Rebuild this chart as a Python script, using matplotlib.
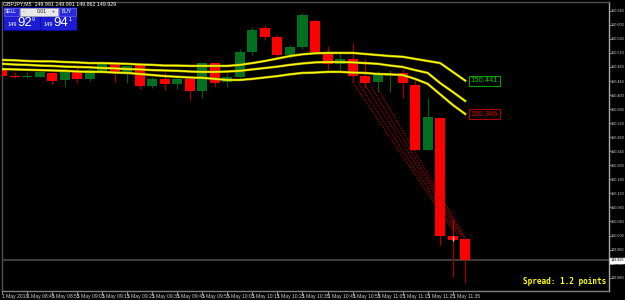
import matplotlib
matplotlib.use("Agg")
import matplotlib.pyplot as plt
from matplotlib.patches import Rectangle
import matplotlib.transforms as mtransforms

# ---- data (GBPJPY M5) ----
opens = [150.477, 150.455, 150.450, 150.452, 150.464, 150.443, 150.467, 150.446,
         150.469, 150.488, 150.465, 150.486, 150.427, 150.446, 150.431, 150.445,
         150.412, 150.490, 150.436, 150.450, 150.523, 150.591, 150.566, 150.514,
         150.537, 150.611, 150.523, 150.489, 150.503, 150.454, 150.437, 150.454,
         150.463, 150.429, 150.244, 150.335, 149.998, 149.990]
highs = [150.483, 150.466, 150.466, 150.469, 150.466, 150.470, 150.481, 150.476,
         150.495, 150.493, 150.484, 150.487, 150.451, 150.465, 150.454, 150.447,
         150.492, 150.492, 150.462, 150.531, 150.594, 150.600, 150.571, 150.543,
         150.634, 150.614, 150.540, 150.523, 150.548, 150.503, 150.469, 150.471,
         150.474, 150.443, 150.392, 150.335, 150.044, 149.990]
lows = [150.443, 150.449, 150.449, 150.450, 150.431, 150.424, 150.434, 150.441,
        150.462, 150.436, 150.434, 150.417, 150.419, 150.415, 150.417, 150.386,
        150.391, 150.424, 150.424, 150.449, 150.514, 150.557, 150.508, 150.506,
        150.531, 150.520, 150.471, 150.471, 150.437, 150.420, 150.409, 150.409,
        150.392, 150.244, 150.244, 149.973, 149.882, 149.864]
closes = [150.454, 150.450, 150.454, 150.465, 150.441, 150.469, 150.445, 150.471,
          150.488, 150.465, 150.483, 150.427, 150.446, 150.432, 150.446, 150.412,
          150.491, 150.435, 150.451, 150.523, 150.586, 150.566, 150.514, 150.537,
          150.628, 150.523, 150.489, 150.503, 150.454, 150.434, 150.463, 150.457,
          150.434, 150.244, 150.338, 149.998, 149.987, 149.929]

band_upper = [150.500, 150.499, 150.497, 150.496, 150.496, 150.494, 150.493, 150.491,
              150.491, 150.490, 150.489, 150.487, 150.486, 150.484, 150.484, 150.483,
              150.483, 150.483, 150.483, 150.486, 150.491, 150.497, 150.504, 150.511,
              150.516, 150.519, 150.520, 150.520, 150.520, 150.517, 150.514, 150.511,
              150.509, 150.503, 150.497, 150.491, 150.466, 150.441]
band_middle = [150.489, 150.487, 150.486, 150.484, 150.483, 150.481, 150.480, 150.479,
               150.477, 150.476, 150.474, 150.473, 150.471, 150.470, 150.469, 150.467,
               150.466, 150.466, 150.467, 150.469, 150.473, 150.477, 150.481, 150.486,
               150.490, 150.493, 150.494, 150.494, 150.493, 150.491, 150.489, 150.484,
               150.480, 150.471, 150.463, 150.434, 150.409, 150.383]
band_lower = [150.474, 150.473, 150.472, 150.471, 150.470, 150.469, 150.467, 150.466,
              150.466, 150.464, 150.463, 150.460, 150.457, 150.454, 150.452, 150.450,
              150.449, 150.446, 150.443, 150.443, 150.446, 150.450, 150.454, 150.459,
              150.463, 150.464, 150.466, 150.466, 150.464, 150.463, 150.460, 150.459,
              150.457, 150.446, 150.432, 150.402, 150.372, 150.346]

# dotted red fan lines: (bar start, price start, bar end, price end)
fan_lines = [(28.0, 150.437, 36.1, 150.010),
             (28.5, 150.432, 36.4, 150.004),
             (29.0, 150.429, 36.7, 149.998),
             (29.5, 150.423, 36.9, 149.993),
             (30.0, 150.420, 37.1, 149.987)]

bid = 149.929
price_ticks = [150.640, 150.600, 150.560, 150.520, 150.480, 150.440, 150.400, 150.360,
               150.320, 150.280, 150.240, 150.200, 150.160, 150.120, 150.080, 150.040,
               150.000, 149.960, 149.920, 149.880]
time_labels = ["1 May 2018", "1 May 08:45", "1 May 08:55", "1 May 09:05", "1 May 09:15",
               "1 May 09:25", "1 May 09:35", "1 May 09:45", "1 May 09:55", "1 May 10:05",
               "1 May 10:15", "1 May 10:25", "1 May 10:35", "1 May 10:45", "1 May 10:55",
               "1 May 11:05", "1 May 11:15", "1 May 11:25", "1 May 11:35"]

W, H = 625, 300
fig = plt.figure(figsize=(W / 100, H / 100), dpi=100, facecolor="black")
ax = fig.add_axes([2 / W, 9 / H, 607 / W, 289 / H], facecolor="black")


def px(x, y):
    """figure pixel (from top-left) -> figure fraction"""
    return x / W, 1 - y / H


# candles
for i in range(len(opens)):
    o, h, l, c = opens[i], highs[i], lows[i], closes[i]
    up = c >= o
    body = "#007020" if up else "#FF0000"
    wick = "#005C18" if up else "#A00000"
    ax.vlines(i, l, h, color=wick, lw=0.9, zorder=2)
    ax.bar(i, max(abs(c - o), 0.0012), bottom=min(o, c), width=0.8,
           color=body, lw=0, zorder=3)

idx = list(range(len(opens)))
for band in (band_upper, band_middle, band_lower):
    ax.plot(idx, band, color="#A09800", lw=1.8, zorder=4)
    ax.plot(idx, band, color="#FFFF00", lw=1.0, zorder=5)

for x0, y0, x1, y1 in fan_lines:
    ax.plot([x0, x1], [y0, y1], color="#D00000", lw=0.7,
            linestyle=(0, (1, 1)), zorder=4)

# bid line
ax.axhline(bid, color="#3C3C3C", lw=1.5, zorder=1)

# small trade marker in candle 36
ax.vlines(36, 149.985, 150.000, color="#FFB0B0", lw=1.0, zorder=6)

# band value labels
ax.text(37.43, band_upper[-1], "150.441", color="#00C800", fontsize=5.5,
        family="Liberation Sans", va="center", ha="left", zorder=7,
        bbox=dict(boxstyle="square,pad=0.2", fc="black", ec="#00A000", lw=0.8))
ax.text(37.43, band_lower[-1], "150.346", color="#E00000", fontsize=5.5,
        family="Liberation Sans", va="center", ha="left", zorder=7,
        bbox=dict(boxstyle="square,pad=0.2", fc="black", ec="#B00000", lw=0.8))

ax.set_xlim(0.04, 48.48)
ax.set_ylim(149.842, 150.665)

# axes styling (MT4 look)
for side, col in (("top", "#505050"), ("left", "#505050"),
                  ("bottom", "#808080"), ("right", "#A8A8A8")):
    ax.spines[side].set_color(col)
    ax.spines[side].set_linewidth(1.0)

ax.yaxis.tick_right()
ax.set_yticks(price_ticks)
ax.set_yticklabels([f"{v:.3f}" for v in price_ticks])
ax.tick_params(axis="y", colors="#A8A8A8", labelcolor="#D0D0D0", length=1.2,
               width=0.6, pad=0.3, labelsize=2.7)
ax.set_xticks(list(range(0, 2 * len(time_labels), 2)))
ax.set_xticklabels(time_labels, ha="left")
ax.tick_params(axis="x", colors="#A8A8A8", labelcolor="#D0D0D0", length=2,
               width=0.6, pad=0.5, labelsize=3.6)
for lab in ax.get_xticklabels() + ax.get_yticklabels():
    lab.set_family("Liberation Sans")

# current bid label on the price scale
trans = mtransforms.blended_transform_factory(ax.transAxes, ax.transData)
ax.text(1.003, bid, f"{bid:.3f}", transform=trans, color="black", fontsize=2.7,
        family="Liberation Sans", va="center", ha="left", clip_on=False, zorder=8,
        bbox=dict(boxstyle="square,pad=0.2", fc="white", ec="white"))

# spread text
fig.text(*px(523, 282), "Spread: 1.2 points", color="#FFFF00", fontsize=5.6,
         family="DejaVu Sans Mono", fontweight="bold", va="center", ha="left")

# header
fig.text(*px(3, 4), "GBPJPY,M5  149.991 149.991 149.862 149.929", color="white",
         fontsize=3.8, family="Liberation Sans", va="center", ha="left")

# one-click trading panel
def box(x0, y0, x1, y1, fc, ec=None):
    fx, fy = px(x0, y1)
    fig.add_artist(Rectangle((fx, fy), (x1 - x0) / W, (y1 - y0) / H,
                             transform=fig.transFigure, fc=fc,
                             ec=ec if ec else fc, lw=0.5))

box(3, 7, 76, 29.5, "#0A0AB4")
box(3.5, 7.5, 18.5, 15.5, "#2A2ADC", "#6A6AF0")
box(58.5, 7.5, 75.5, 15.5, "#2A2ADC", "#6A6AF0")
box(19.5, 8, 57.5, 15.5, "#E8E8E8", "#B0B0B0")
box(3.5, 16.5, 38.5, 29, "#1C1CD2")
box(40.5, 16.5, 75.5, 29, "#1C1CD2")
fig.text(*px(11, 11.5), "SELL", color="white", fontsize=3.6, ha="center", va="center",
         family="Liberation Sans")
fig.text(*px(67, 11.5), "BUY", color="white", fontsize=3.6, ha="center", va="center",
         family="Liberation Sans")
fig.text(*px(24, 11.5), "-", color="#303030", fontsize=3.6, ha="center", va="center",
         family="Liberation Sans")
fig.text(*px(42, 11.5), "0.01", color="#202020", fontsize=3.6, ha="center", va="center",
         family="Liberation Sans")
fig.text(*px(53, 11.5), "+", color="#303030", fontsize=3.6, ha="center", va="center",
         family="Liberation Sans")
fig.text(*px(12, 25), "149", color="white", fontsize=4, ha="center", va="center",
         family="Liberation Sans")
fig.text(*px(24.5, 23), "92", color="white", fontsize=9.5, ha="center", va="center",
         family="Liberation Sans")
fig.text(*px(33, 19.5), "9", color="white", fontsize=4, ha="center", va="center",
         family="Liberation Sans")
fig.text(*px(48.5, 25), "149", color="white", fontsize=4, ha="center", va="center",
         family="Liberation Sans")
fig.text(*px(61, 23), "94", color="white", fontsize=9.5, ha="center", va="center",
         family="Liberation Sans")
fig.text(*px(70, 19.5), "1", color="white", fontsize=4, ha="center", va="center",
         family="Liberation Sans")

fig.savefig("out.png", dpi=100, facecolor="black")
